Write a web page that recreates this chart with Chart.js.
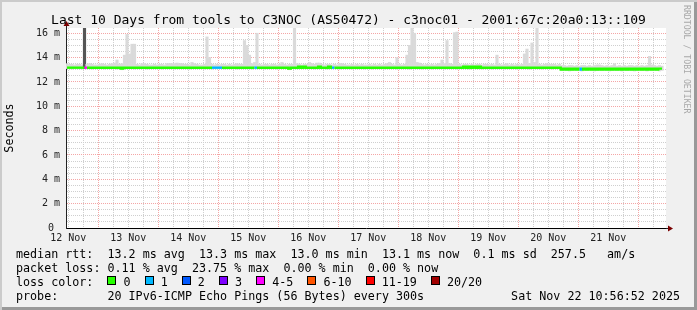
<!DOCTYPE html>
<html>
<head>
<meta charset="utf-8">
<script src="https://cdn.jsdelivr.net/npm/chart.js@4.4.1/dist/chart.umd.min.js"></script>
<style>
  body { margin: 0; background: #f0f0f0; }
  #frame {
    position: relative; width: 697px; height: 310px; overflow: hidden;
    background: #f0f0f0;
    box-shadow: inset 2px 2px 0 #cbcbcb, inset -3px -3px 0 #999;
    font-family: 'DejaVu Sans Mono', monospace; color: #000;
  }
  #chart { position: absolute; left: 0; top: 0; }
  .title {
    position: absolute; left: 0; top: 13px; width: 697px;
    text-align: center; font-size: 13px; line-height: 13px; white-space: pre;
  }
  .legend {
    position: absolute; left: 16px; top: 247px; margin: 0;
    font-family: inherit; font-size: 11.7px; line-height: 14px; white-space: pre;
  }
  .box {
    display: inline-block; width: 7px; height: 7px; border: 1px solid #000;
    vertical-align: 1px;
  }
  .stamp {
    position: absolute; right: 17px; top: 289px;
    font-size: 11.7px; line-height: 14px; white-space: pre;
  }
  .mark {
    position: absolute; left: 682px; top: 5px;
    writing-mode: vertical-rl; font-size: 8.2px; color: #a8a8a8; white-space: pre;
  }
</style>
</head>
<body>
<div id="frame">
  <canvas id="chart" width="697" height="310"></canvas>
  <div class="title">Last 10 Days from tools to C3NOC (AS50472) - c3noc01 - 2001:67c:20a0:13::109</div>
  <pre class="legend">median rtt:  13.2 ms avg  13.3 ms max  13.0 ms min  13.1 ms now  0.1 ms sd  257.5   am/s
packet loss: 0.11 % avg  23.75 % max  0.00 % min  0.00 % now
loss color:  <span class="box" style="background:#26ff00"></span> 0  <span class="box" style="background:#00b8ff"></span> 1  <span class="box" style="background:#0059ff"></span> 2  <span class="box" style="background:#7e00ff"></span> 3  <span class="box" style="background:#ff00ff"></span> 4-5  <span class="box" style="background:#ff5500"></span> 6-10  <span class="box" style="background:#ff0000"></span> 11-19  <span class="box" style="background:#a10000"></span> 20/20
probe:       20 IPv6-ICMP Echo Pings (56 Bytes) every 300s</pre>
  <div class="stamp">Sat Nov 22 10:56:52 2025</div>
  <div class="mark">RRDTOOL / TOBI OETIKER</div>
</div>
<script>
// hourly samples, first one is Nov 12 11:00 (hours counted from Nov 12 00:00)
const startHour = 11;
const dayLabels = ['12 Nov', '13 Nov', '14 Nov', '15 Nov', '16 Nov', '17 Nov', '18 Nov', '19 Nov', '20 Nov', '21 Nov'];

// top of the smoke (ms), one row per day
const smokeHigh = [
   13.5, 13.45, 13.45, 13.4, 13.45, 13.45, 13.4, 16.5, 13.45, 13.5, 13.45, 13.4, 13.4, 13.45, 13.5, 13.45, 13.4, 13.45, 13.5, 13.55, 13.8, 13.45, 13.5, 14.2,
   15.9, 14.3, 15.1, 15.1, 13.45, 13.4, 13.5, 13.5, 13.45, 13.4, 13.4, 13.45, 13.4, 13.45, 13.45, 13.4, 13.5, 13.5, 13.5, 13.5, 13.55, 13.5, 13.5, 13.45,
   13.45, 13.4, 13.6, 13.5, 13.45, 13.4, 13.4, 13.45, 15.7, 14.0, 13.45, 13.4, 13.45, 13.4, 13.45, 13.45, 13.4, 13.45, 13.4, 13.45, 13.5, 13.45, 13.45, 15.4,
   15.0, 14.2, 13.5, 13.6, 16.0, 13.45, 13.4, 13.45, 13.45, 13.4, 13.45, 13.45, 13.4, 13.45, 13.6, 13.45, 13.4, 13.45, 13.45, 16.5, 13.5, 13.45, 13.4, 13.45,
   13.45, 13.6, 13.5, 13.45, 13.55, 13.55, 13.45, 13.4, 13.45, 13.45, 13.4, 13.45, 13.4, 13.5, 13.5, 13.45, 13.4, 13.4, 13.45, 13.4, 13.45, 13.4, 13.45, 13.4,
   13.4, 13.45, 13.4, 13.45, 13.4, 13.45, 13.4, 13.45, 13.5, 13.6, 13.45, 13.4, 14.0, 13.45, 13.4, 13.45, 14.2, 15.0, 16.5, 16.0, 13.6, 13.55, 13.45, 13.4,
   13.45, 13.4, 13.45, 13.4, 13.45, 13.5, 13.8, 13.5, 15.4, 13.5, 13.45, 16.05, 16.1, 13.45, 13.4, 13.45, 13.45, 13.4, 13.45, 13.4, 13.45, 13.45, 13.4, 13.45,
   13.45, 13.4, 13.45, 13.4, 14.2, 13.45, 13.4, 13.45, 13.5, 13.4, 13.45, 13.4, 13.45, 13.4, 13.45, 14.3, 14.7, 13.5, 15.2, 13.6, 16.5, 13.45, 13.4, 13.45,
   13.5, 13.45, 13.45, 13.45, 13.4, 13.45, 13.35, 13.35, 13.3, 13.35, 13.35, 13.3, 13.35, 13.3, 13.35, 13.35, 13.3, 13.35, 13.3, 13.35, 13.4, 13.4, 13.35, 13.3,
   13.35, 13.3, 13.35, 13.5, 13.3, 13.35, 13.3, 13.35, 13.3, 13.35, 13.35, 13.3, 13.35, 13.3, 13.35, 13.3, 13.35, 14.1, 13.4, 13.35, 13.3, 13.35, 13.3
];

// bottom of the smoke (ms)
const smokeLow = [
   13.1, 13.1, 13.05, 13.1, 13.1, 13.1, 13.05, 13.1, 13.1, 13.1, 13.05, 13.1, 13.1, 13.1, 13.1, 13.05, 13.1, 13.1, 13.1, 13.1, 13.05, 13.1, 13.0, 13.1,
   13.1, 13.1, 13.1, 13.05, 13.1, 13.1, 13.1, 13.1, 13.05, 13.1, 13.1, 13.1, 13.1, 13.1, 13.05, 13.1, 13.1, 13.1, 13.1, 13.05, 13.1, 13.1, 13.1, 13.1,
   13.1, 13.05, 13.1, 13.1, 13.1, 13.1, 13.1, 13.05, 13.1, 13.1, 13.05, 13.1, 13.1, 13.1, 13.1, 13.05, 13.1, 13.1, 13.1, 13.1, 13.05, 13.1, 13.1, 13.1,
   13.1, 13.1, 13.05, 13.1, 13.1, 13.1, 13.1, 13.05, 13.1, 13.1, 13.1, 13.1, 13.05, 13.1, 13.1, 13.1, 13.1, 13.0, 13.1, 13.1, 13.1, 13.1, 13.1, 13.1,
   13.1, 13.1, 13.1, 13.05, 13.1, 13.1, 13.1, 13.1, 13.05, 13.1, 13.1, 13.1, 13.1, 13.05, 13.1, 13.1, 13.1, 13.1, 13.05, 13.1, 13.1, 13.1, 13.1, 13.05,
   13.1, 13.1, 13.05, 13.1, 13.1, 13.1, 13.1, 13.05, 13.1, 13.1, 13.1, 13.1, 13.05, 13.1, 13.1, 13.1, 13.1, 13.05, 13.1, 13.1, 13.1, 13.1, 13.05, 13.1,
   13.1, 13.1, 13.05, 13.1, 13.1, 13.1, 13.1, 13.05, 13.1, 13.1, 13.1, 13.1, 13.05, 13.1, 13.1, 13.1, 13.1, 13.05, 13.1, 13.1, 13.1, 13.1, 13.05, 13.1,
   13.1, 13.1, 13.05, 13.1, 13.1, 13.1, 13.1, 13.05, 13.1, 13.1, 13.1, 13.1, 13.05, 13.1, 13.1, 13.1, 13.1, 13.05, 13.1, 13.1, 13.1, 13.1, 13.05, 13.1,
   13.1, 13.1, 13.05, 13.1, 13.1, 13.1, 12.95, 12.95, 12.95, 12.9, 12.95, 12.95, 12.95, 12.95, 12.9, 12.95, 12.95, 12.95, 12.95, 12.9, 12.95, 12.95, 12.95, 12.95,
   12.95, 12.9, 12.95, 12.95, 12.95, 12.95, 12.9, 12.95, 12.95, 12.95, 12.95, 12.9, 12.95, 12.95, 12.95, 12.95, 12.9, 12.95, 12.95, 12.95, 12.95, 12.9, 12.95
];

// median rtt (ms)
const median = [
   13.17, 13.17, 13.17, 13.17, 13.17, 13.17, 13.17, 13.17, 13.17, 13.17, 13.17, 13.17, 13.17, 13.17, 13.17, 13.17, 13.17, 13.17, 13.17, 13.17, 13.17, 13.17, 13.09, 13.17,
   13.17, 13.17, 13.17, 13.17, 13.17, 13.17, 13.17, 13.17, 13.17, 13.17, 13.17, 13.17, 13.17, 13.17, 13.17, 13.17, 13.17, 13.17, 13.17, 13.17, 13.17, 13.17, 13.17, 13.17,
   13.17, 13.17, 13.17, 13.17, 13.17, 13.17, 13.17, 13.17, 13.17, 13.17, 13.17, 13.17, 13.17, 13.17, 13.17, 13.17, 13.17, 13.17, 13.17, 13.17, 13.17, 13.17, 13.17, 13.17,
   13.17, 13.17, 13.17, 13.17, 13.17, 13.17, 13.17, 13.17, 13.17, 13.17, 13.17, 13.17, 13.17, 13.17, 13.17, 13.17, 13.17, 13.09, 13.17, 13.17, 13.17, 13.25, 13.17, 13.25,
   13.17, 13.17, 13.17, 13.17, 13.17, 13.25, 13.17, 13.17, 13.17, 13.25, 13.17, 13.17, 13.17, 13.17, 13.17, 13.17, 13.17, 13.17, 13.17, 13.17, 13.17, 13.17, 13.17, 13.17,
   13.17, 13.17, 13.17, 13.17, 13.17, 13.17, 13.17, 13.17, 13.17, 13.17, 13.17, 13.17, 13.17, 13.17, 13.17, 13.17, 13.17, 13.17, 13.17, 13.17, 13.17, 13.17, 13.17, 13.17,
   13.17, 13.17, 13.17, 13.17, 13.17, 13.17, 13.17, 13.17, 13.17, 13.17, 13.17, 13.17, 13.17, 13.17, 13.17, 13.25, 13.17, 13.25, 13.17, 13.25, 13.17, 13.25, 13.17, 13.17,
   13.17, 13.17, 13.17, 13.17, 13.17, 13.17, 13.17, 13.17, 13.17, 13.17, 13.17, 13.17, 13.17, 13.17, 13.17, 13.17, 13.17, 13.17, 13.17, 13.17, 13.17, 13.17, 13.17, 13.17,
   13.17, 13.17, 13.17, 13.17, 13.17, 13.17, 13.01, 13.09, 13.01, 13.09, 13.01, 13.09, 13.01, 13.09, 13.01, 13.09, 13.01, 13.09, 13.01, 13.09, 13.01, 13.09, 13.01, 13.09,
   13.01, 13.09, 13.01, 13.09, 13.01, 13.09, 13.01, 13.09, 13.01, 13.09, 13.01, 13.09, 13.01, 13.09, 13.01, 13.09, 13.01, 13.09, 13.01, 13.09, 13.01, 13.09, 13.09
];

// lost pings out of 20 (hourly average)
const loss = [
   0, 0, 0, 0, 0, 0, 0, 4.75, 0, 0, 0, 0, 0, 0, 0, 0, 0, 0, 0, 0, 0, 0, 0, 0,
   0, 0, 0, 0, 0, 0, 0, 0, 0, 0, 0, 0, 0, 0, 0, 0, 0, 0, 0, 0, 0, 0, 0, 0,
   0, 0, 0, 0, 0, 0, 0, 0, 0, 0, 1, 1, 1, 1, 0, 0, 0, 0, 0, 0, 0, 0, 0, 0,
   0, 0, 0, 1, 0, 0, 0, 0, 0, 0, 0, 0, 0, 0, 0, 0, 0, 0, 0, 0, 0, 0, 0, 0,
   0, 0, 0, 0, 0, 0, 0, 0, 0, 0, 1, 0, 0, 0, 0, 0, 0, 0, 0, 0, 0, 0, 0, 0,
   0, 0, 0, 0, 0, 0, 0, 0, 0, 0, 0, 0, 0, 0, 0, 0, 0, 0, 0, 0, 0, 0, 0, 0,
   0, 0, 0, 0, 0, 0, 0, 0, 0, 0, 0, 0, 0, 0, 0, 0, 0, 0, 0, 0, 0, 0, 0, 0,
   0, 0, 0, 0, 0, 0, 0, 0, 0, 0, 0, 0, 0, 0, 0, 0, 0, 0, 0, 0, 0, 0, 0, 0,
   0, 0, 0, 0, 0, 0, 0, 0, 0, 0, 0, 0, 0, 1, 0, 0, 0, 0, 0, 0, 0, 0, 0, 0,
   0, 0, 0, 0, 0, 0, 0, 0, 0, 0, 0, 0, 0, 0, 0, 0, 0, 0, 0, 0, 0, 0, 0
];

const lossColors = [
   [0, '#26ff00'], [1, '#00b8ff'], [2, '#0059ff'], [3, '#7e00ff'],
   [5, '#ff00ff'], [10, '#ff5500'], [19, '#ff0000'], [20, '#a10000'],
];

function lossColor(l) {
   for (const [limit, color] of lossColors) {
      if (l <= limit) return color;
   }
   return '#a10000';
}

const smokeData = smokeHigh.map((hi, j) => ({ x: startHour + j + 0.5, y: [smokeLow[j], hi] }));
const medianData = median.map((v, j) => ({ x: startHour + j + 0.5, y: v }));

// x grid every 6 hours, a day label at noon
const xMin = 11.1;
const xMax = 251.1;
const xTicks = [];
for (let h = 12; h < xMax; h += 6) xTicks.push({ value: h });

const monoFont = 'DejaVu Sans Mono';

const plotBackground = {
   id: 'plotBackground',
   beforeDraw(chart) {
      const { ctx, chartArea: a } = chart;
      ctx.save();
      ctx.fillStyle = '#ffffff';
      ctx.fillRect(a.left, a.top, a.right - a.left, a.bottom - a.top);
      ctx.restore();
   },
   afterDraw(chart) {
      // rrdtool style axis arrows
      const { ctx, chartArea: a } = chart;
      const x0 = Math.round(a.left) + 0.5;
      const y0 = Math.round(a.bottom) + 0.5;
      ctx.save();
      ctx.strokeStyle = '#222';
      ctx.lineWidth = 1;
      ctx.beginPath();
      ctx.moveTo(x0, a.top);
      ctx.lineTo(x0, a.top - 3);
      ctx.moveTo(a.right, y0);
      ctx.lineTo(a.right + 2, y0);
      ctx.stroke();
      ctx.fillStyle = '#7a0000';
      ctx.beginPath();
      ctx.moveTo(x0 - 3, a.top - 2);
      ctx.lineTo(x0 + 3, a.top - 2);
      ctx.lineTo(x0, a.top - 7);
      ctx.closePath();
      ctx.fill();
      ctx.beginPath();
      ctx.moveTo(a.right + 2, y0 - 3);
      ctx.lineTo(a.right + 2, y0 + 3);
      ctx.lineTo(a.right + 7, y0);
      ctx.closePath();
      ctx.fill();
      ctx.restore();
   }
};

new Chart(document.getElementById('chart'), {
   data: {
      datasets: [
         {
            type: 'line',
            label: 'median rtt',
            data: medianData,
            borderColor: '#26ff00',
            borderWidth: 2.4,
            pointRadius: 0,
            stepped: 'middle',
            order: 1,
            segment: {
               borderColor: ctx => lossColor(loss[ctx.p0DataIndex]),
            },
         },
         {
            type: 'bar',
            label: 'smoke',
            data: smokeData,
            backgroundColor: smokeHigh.map((_, j) => loss[j] >= 4 ? '#555555' : '#dadada'),
            borderWidth: 0,
            barPercentage: 1,
            categoryPercentage: 1,
            order: 2,
         },
      ],
   },
   options: {
      responsive: false,
      animation: false,
      devicePixelRatio: 1,
      layout: { padding: { left: 0, top: 28, right: 31, bottom: 0 } },
      plugins: {
         legend: { display: false },
         tooltip: { enabled: false },
      },
      scales: {
         x: {
            type: 'linear',
            position: 'bottom',
            min: xMin,
            max: xMax,
            offset: false,
            z: 1,
            afterFit: scale => { scale.height = 82; },
            afterBuildTicks: scale => { scale.ticks = xTicks.map(t => ({ value: t.value })); },
            ticks: {
               autoSkip: false,
               maxRotation: 0,
               padding: 4,
               color: '#222',
               font: { family: monoFont, size: 10 },
               callback: v => (v % 24 === 12 ? dayLabels[(v - 12) / 24] : ''),
            },
            grid: {
               offset: false,
               drawTicks: false,
               lineWidth: 1,
               color: ctx => (ctx.tick && ctx.tick.value % 24 === 0 ? '#f4a6a6' : '#cfcfcf'),
            },
            border: { display: true, color: '#000', width: 1, dash: [1, 1] },
         },
         y: {
            type: 'linear',
            min: 0,
            max: 16.43,
            z: 1,
            afterFit: scale => { scale.width = 66; },
            ticks: {
               stepSize: 0.5,
               includeBounds: false,
               autoSkip: false,
               padding: 6,
               color: '#222',
               font: { family: monoFont, size: 10 },
               callback: v => (v % 2 === 0 ? (v === 0 ? '0 ' : v + ' m') : ''),
            },
            grid: {
               drawTicks: false,
               lineWidth: 1,
               color: ctx => (ctx.tick && ctx.tick.value % 2 === 0 ? '#f4a6a6' : '#cfcfcf'),
            },
            border: { display: true, color: '#222', width: 1, dash: [1, 1] },
            title: {
               display: true,
               text: 'Seconds',
               color: '#000',
               font: { family: monoFont, size: 11.7 },
               padding: { top: 3, bottom: 0 },
            },
         },
      },
   },
   plugins: [plotBackground],
});
</script>
</body>
</html>
